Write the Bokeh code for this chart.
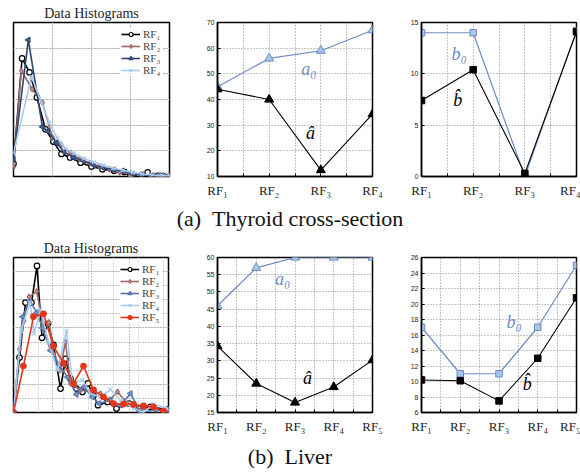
import math
from bokeh.plotting import figure
from bokeh.layouts import column, row
from bokeh.models import Range1d, FixedTicker, Div, Legend, LegendItem, Grid
from bokeh.embed import file_html
from bokeh.resources import INLINE
from bokeh.core.properties import value

# ---------------- data ----------------
# Thyroid histograms (x: bin position, y: frequency)
thy_rf1_x = [0, 1.1, 2.05, 3.0, 4.1, 5.1, 6.15, 7.25, 8.6, 10, 11.4, 12.9, 14.2, 15, 17.2, 18.5, 19.4]
thy_rf1_y = [0.025, 0.23, 0.203, 0.154, 0.092, 0.068, 0.044, 0.037, 0.027, 0.0195, 0.014, 0.011, 0.009, 0.001, 0.008, 0.0015, 0.0]
thy_rf2_x = [0, 1.0, 2.4, 3.7, 5.0, 6.1, 7.3, 8.5, 9.8, 11, 12.3, 13.6, 15, 16.3, 17.5, 18.8, 20]
thy_rf2_y = [0.018, 0.206, 0.17, 0.144, 0.076, 0.062, 0.046, 0.034, 0.026, 0.02, 0.014, 0.008, 0.006, 0.004, 0.002, 0.003, 0.002]
thy_rf3_x = [0, 1.9, 3.7, 4.4, 5.5, 6.5, 7.7, 9, 10.3, 11.5, 12.8, 14, 15.3, 16.5, 17.8, 19, 20]
thy_rf3_y = [0.033, 0.266, 0.097, 0.088, 0.066, 0.048, 0.037, 0.03, 0.022, 0.017, 0.013, 0.011, 0.005, 0.004, 0.002, 0.002, 0.002]
thy_rf4_x = [0, 2.3, 4.6, 5.6, 6.6, 7.8, 9, 10.3, 11.5, 12.8, 14, 15.3, 16.5, 17.8, 19, 20]
thy_rf4_y = [0.045, 0.194, 0.105, 0.075, 0.055, 0.045, 0.035, 0.028, 0.022, 0.016, 0.012, 0.008, 0.005, 0.003, 0.002, 0.002]

# Liver histograms
liv_rf1_x = [0, 1.2, 2.4, 3.6, 4.7, 5.7, 6.9, 8.0, 9.4, 10.4, 11.4, 12.6, 13.8, 14.9, 16.0, 16.9, 18.8, 20.6, 23.1, 25.1, 27.4, 30.9]
liv_rf1_y = [0.0, 0.039, 0.078, 0.078, 0.104, 0.053, 0.063, 0.048, 0.017, 0.038, 0.024, 0.017, 0.0146, 0.0206, 0.012, 0.0052, 0.0075, 0.0028, 0.0064, 0.0028, 0.004, 0.002]
liv_rf2_x = [0, 1.2, 2.1, 3.1, 4.65, 5.8, 7.1, 8.1, 9.3, 10.4, 11.4, 13.4, 15.4, 17.4, 19.2, 20.8, 22.8, 25.4, 28, 30]
liv_rf2_y = [0.0, 0.045, 0.065, 0.082, 0.086, 0.064, 0.064, 0.041, 0.03, 0.05, 0.0206, 0.0158, 0.0146, 0.0135, 0.009, 0.0146, 0.0064, 0.0016, 0.004, 0.0]
liv_rf3_x = [0, 1.8, 3.3, 4.65, 5.8, 7.4, 9.3, 10.8, 12.6, 14.1, 15.8, 17.1, 19.4, 21.4, 23.4, 25.4, 28.4, 31]
liv_rf3_y = [0.0, 0.068, 0.079, 0.071, 0.06, 0.044, 0.033, 0.025, 0.0128, 0.018, 0.011, 0.0064, 0.0087, 0.0052, 0.0135, 0.0, 0.002, 0.001]
liv_rf4_x = [0, 1.5, 3.3, 4.1, 5.4, 7.0, 8.8, 10.6, 11.8, 13.8, 15.4, 17.4, 19.4, 21.4, 24.1, 26, 28, 30.7]
liv_rf4_y = [0.0, 0.058, 0.078, 0.056, 0.073, 0.05, 0.03, 0.058, 0.0206, 0.023, 0.0135, 0.011, 0.0163, 0.0087, 0.0028, 0.0, 0.0059, 0.003]
liv_rf5_x = [0, 2, 4, 6, 8, 10, 12, 14, 16, 18, 20, 22, 24, 26, 28, 30]
liv_rf5_y = [0.0, 0.033, 0.068, 0.070, 0.047, 0.035, 0.0206, 0.033, 0.016, 0.011, 0.0064, 0.006, 0.0057, 0.0047, 0.004, 0.001]

# Parameter panels
thy_rf = [1, 2, 3, 4]
thy_a0 = [45, 56, 59, 67]
thy_ahat = [44, 40, 12.5, 34.3]
thy_b0 = [14.0, 14.0, 0.0, 14.2]
thy_bhat = [7.4, 10.4, 0.3, 14.1]

liv_rf = [1, 2, 3, 4, 5]
liv_a0 = [46, 57, 60, 60, 60]
liv_ahat = [34.3, 23.4, 17.9, 22.4, 30.2]
liv_b0 = [17, 11, 11, 17, 25]
liv_bhat = [10.2, 10.1, 7.5, 13, 20.8]

rf_labels = ["RF\u2081", "RF\u2082", "RF\u2083", "RF\u2084", "RF\u2085"]

SERIF = "Liberation Serif"
SANS = "Liberation Sans"
BLUE_LINE = "#6d8cc2"
BLUE_FILL = "#a9c5ea"
GRID = "#8a8a8a"


def style_frame(p):
    p.outline_line_color = "black"
    p.outline_line_width = 1.5
    p.outline_line_alpha = 1
    p.background_fill_color = "white"
    p.border_fill_color = "white"


def hist_fig(w, h, bl, br, bt, bb, xr, yr, xt, yt, series):
    p = figure(width=w, height=h, x_range=Range1d(*xr), y_range=Range1d(*yr),
               output_backend="svg", toolbar_location=None,
               x_axis_location=None, y_axis_location=None,
               min_border_left=bl, min_border_right=br,
               min_border_top=bt, min_border_bottom=bb)
    style_frame(p)
    for dim, ticks in ((0, xt), (1, yt)):
        g = Grid(dimension=dim, ticker=FixedTicker(ticks=ticks),
                 grid_line_color=GRID, grid_line_dash="1 2", grid_line_width=1)
        p.add_layout(g)
    p.title.text = "Data Histograms"
    p.title.text_font = SERIF
    p.title.text_font_size = "14px"
    p.title.text_font_style = "normal"
    p.title.align = "center"
    p.title.standoff = 3
    p.title.text_color = "#222222"
    items = []
    for lab, xs, ys, col, fill, marker, ang in series:
        lr = p.line(xs, ys, line_color=col, line_width=1.6)
        sr = p.scatter(xs, ys, marker=marker, size=5.5, line_color=col,
                       fill_color=fill, line_width=1.2, angle=ang)
        items.append(LegendItem(label=lab, renderers=[lr, sr]))
    leg = Legend(items=items, location="top_right")
    leg.label_text_font = SERIF
    leg.label_text_font_size = "11px"
    leg.label_height = 10
    leg.glyph_height = 10
    leg.glyph_width = 19
    leg.spacing = 0
    leg.padding = 2
    leg.margin = 6
    leg.label_standoff = 3
    leg.border_line_color = None
    leg.background_fill_alpha = 1
    p.add_layout(leg)
    return p


def param_fig(w, h, bl, br, bt, bb, rf, yr, yt, v0, vhat, marker, msize,
              lab0, lab0_xy, labh, labh_xy):
    n = len(rf)
    p = figure(width=w, height=h, x_range=Range1d(1, n), y_range=Range1d(*yr),
               output_backend="svg", toolbar_location=None,
               min_border_left=bl, min_border_right=br,
               min_border_top=bt, min_border_bottom=bb)
    style_frame(p)
    for ax in (p.xaxis[0], p.yaxis[0]):
        ax.axis_line_color = "black"
        ax.axis_line_width = 1.5
        ax.major_tick_in = 3
        ax.major_tick_out = 0
        ax.major_tick_line_color = "black"
        ax.minor_tick_line_color = None
    p.grid.grid_line_color = GRID
    p.grid.grid_line_dash = "1 2"
    p.grid.grid_line_width = 1

    xt = [1 + 0.5 * i for i in range(2 * (n - 1) + 1)]
    p.xaxis.ticker = FixedTicker(ticks=xt)
    overrides = {}
    for t in xt:
        if float(t).is_integer():
            overrides[int(t)] = rf_labels[int(t) - 1]
        else:
            overrides[t] = ""
    p.xaxis.major_label_overrides = overrides
    p.xaxis.major_label_text_font = SERIF
    p.xaxis.major_label_text_font_size = "13px"
    p.xaxis.major_label_text_color = "#222222"
    p.xaxis.major_label_standoff = 6
    p.yaxis.ticker = FixedTicker(ticks=yt)
    p.yaxis.major_label_text_font = SANS
    p.yaxis.major_label_text_font_size = "7px"
    p.yaxis.major_label_standoff = 3
    p.yaxis.major_label_text_color = "#222222"

    p.line(rf, v0, line_color=BLUE_LINE, line_width=1.2)
    p.scatter(rf, v0, marker=marker, size=msize, line_color=BLUE_LINE,
              fill_color=BLUE_FILL, line_width=1)
    p.line(rf, vhat, line_color="black", line_width=1.1)
    p.scatter(rf, vhat, marker=marker, size=msize, line_color="black",
              fill_color="black")
    p.text(x=[lab0_xy[0]], y=[lab0_xy[1]], text=[lab0], text_font=value(SERIF),
           text_font_style="italic", text_font_size="18px", text_color=BLUE_LINE,
           text_align="center", text_baseline="middle")
    p.text(x=[labh_xy[0]], y=[labh_xy[1]], text=[labh], text_font=value(SERIF),
           text_font_style="italic", text_font_size="18px", text_color="black",
           text_align="center", text_baseline="middle")
    return p


LEFT = math.pi / 2

thy_series = [
    ("RF\u2081", thy_rf1_x, thy_rf1_y, "black", "white", "circle", 0),
    ("RF\u2082", thy_rf2_x, thy_rf2_y, "#9c6868", "#c99c9c", "diamond", 0),
    ("RF\u2083", thy_rf3_x, thy_rf3_y, "#2f4571", "#4a6290", "triangle", LEFT),
    ("RF\u2084", thy_rf4_x, thy_rf4_y, "#a9cbef", "#a9cbef", "x", 0),
]
liv_series = [
    ("RF\u2081", liv_rf1_x, liv_rf1_y, "black", "white", "circle", 0),
    ("RF\u2082", liv_rf2_x, liv_rf2_y, "#9c6868", "#c99c9c", "diamond", 0),
    ("RF\u2083", liv_rf3_x, liv_rf3_y, "#5876ab", "#7d98c6", "triangle", LEFT),
    ("RF\u2084", liv_rf4_x, liv_rf4_y, "#a9cbef", "#a9cbef", "x", 0),
    ("RF\u2085", liv_rf5_x, liv_rf5_y, "#e2361a", "#e2361a", "circle", 0),
]

# ---------------- row 1: thyroid ----------------
pA = hist_fig(190, 200, 13, 21, 22, 24, (0, 20), (0, 0.3),
              [5, 10, 15], [0.05, 0.1, 0.15, 0.2, 0.25], thy_series)
pB = param_fig(200, 200, 27, 18, 22, 24, thy_rf, (10, 70), [10, 20, 30, 40, 50, 60, 70],
               thy_a0, thy_ahat, "triangle", 9,
               "a\u2080", (2.77, 52), "\u00e2", (2.8, 27))
pC = param_fig(190, 200, 31, 4, 22, 24, thy_rf, (0, 15), [0, 5, 10, 15],
               thy_b0, thy_bhat, "square", 6.5,
               "b\u2080", (1.73, 11.9), "b\u0302", (1.7, 7.5))

cap_a = Div(text='<div style="font-family:\'Liberation Serif\';font-size:22px;'
                 'text-align:center;width:580px;padding-top:7px;line-height:1.1;color:#111">'
                 '(a)&nbsp;&nbsp;Thyroid cross-section</div>',
            width=580, height=35, margin=0)

# ---------------- row 2: liver ----------------
pD = hist_fig(190, 205, 13, 22, 22, 28, (0, 31), (0, 0.11),
              [7.75, 15.5, 23.25], [0.01 * i for i in range(1, 11)], liv_series)
pE = param_fig(200, 205, 27, 18, 22, 28, liv_rf, (15, 60), [15, 20, 25, 30, 35, 40, 45, 50, 55, 60],
               liv_a0, liv_ahat, "triangle", 9,
               "a\u2080", (2.68, 53.9), "\u00e2", (3.32, 24.9))
pF = param_fig(190, 205, 31, 4, 22, 28, liv_rf, (6, 26), [6, 8, 10, 12, 14, 16, 18, 20, 22, 24, 26],
               liv_b0, liv_bhat, "square", 6.5,
               "b\u2080", (3.39, 17.7), "b\u0302", (3.73, 9.7))

cap_b = Div(text='<div style="font-family:\'Liberation Serif\';font-size:22px;'
                 'text-align:center;width:580px;padding-top:5px;line-height:1.1;color:#111">'
                 '(b)&nbsp;&nbsp;Liver</div>',
            width=580, height=33, margin=0)

layout = column(row(pA, pB, pC, spacing=0), cap_a, row(pD, pE, pF, spacing=0), cap_b, spacing=0)

open("out.html", "w").write(file_html(layout, INLINE))
